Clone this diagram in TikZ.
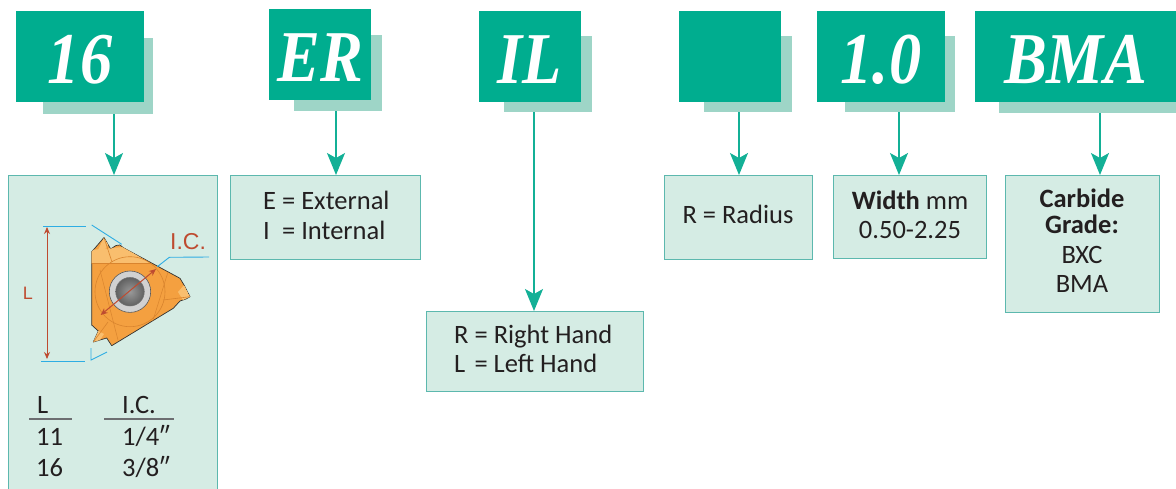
\documentclass[tikz,border=0pt]{standalone}
\usepackage{fontspec}
\setmainfont{Carlito}
\newfontfamily\hdfont[FakeStretch=0.88]{Liberation Serif}
\newfontfamily\arialfont{Liberation Sans}
\usetikzlibrary{arrows.meta}
\definecolor{tealA}{HTML}{00AD8F}
\definecolor{tealShadow}{HTML}{9ED5C7}
\definecolor{boxFill}{HTML}{D5ECE4}
\definecolor{boxLine}{HTML}{5CB8AE}
\definecolor{arrTeal}{HTML}{13B096}
\definecolor{txtDark}{HTML}{231F20}
\definecolor{cyanLine}{HTML}{2EADE3}
\definecolor{redBrown}{HTML}{BE4B30}
\definecolor{insOrange}{HTML}{F4A040}
\definecolor{insLight}{HTML}{F9BE6E}
\definecolor{insDark}{HTML}{D9842E}
\definecolor{ruleGray}{HTML}{6D6E71}
\begin{document}
\begin{tikzpicture}[x=1pt,y=-1pt,
  hdr/.style={fill=tealA, inner sep=0pt, text=white,
    font=\hdfont\bfseries\itshape\fontsize{73}{73}\selectfont,
    text height=54pt, text depth=0pt, minimum height=91pt},
  shad/.style={fill=tealShadow},
  infobox/.style={fill=boxFill, draw=boxLine, line width=1.2pt, inner sep=0pt},
  txt/.style={text=txtDark, inner sep=0pt, font=\fontsize{26.5}{29.5}\selectfont},
  arr/.style={draw=arrTeal, line width=1.5pt, -{Stealth[length=22pt,width=18pt,inset=5pt]}},
  dimred/.style={draw=redBrown, line width=1pt, {Stealth[length=7pt,width=6pt]}-{Stealth[length=7pt,width=6pt]}},
  cyanl/.style={draw=cyanLine, line width=0.9pt},
  tabrule/.style={draw=ruleGray, line width=1.2pt}
]
\useasboundingbox (0,0) rectangle (1176,488);
\clip (0,0) rectangle (1176,488);

% shadows
\fill[shad] (43,38) rectangle (153,114);
\fill[shad] (294,35) rectangle (382,111);
\fill[shad] (504,36) rectangle (592,112);
\fill[shad] (704,36) rectangle (792,112);
\fill[shad] (845,36) rectangle (955,112);
\fill[shad] (999,36) rectangle (1176,113);

% header boxes
\node[hdr, minimum width=128pt] (h1) at (80,56.5) {16};
\node[hdr, minimum width=102pt] (h2) at (320,54.5) {ER};
\node[hdr, minimum width=102pt] (h3) at (530,56.5) {IL};
\node[hdr, minimum width=102pt] (h4) at (730,56.5) {};
\node[hdr, minimum width=128pt] (h5) at (881,56.5) {1.0};
\node[hdr, minimum width=201pt] (h6) at (1075.5,56.5) {BMA};

% lower boxes
\node[infobox, minimum width=209pt, minimum height=325pt, anchor=north west] (b1) at (8,175) {};
\node[infobox, minimum width=190pt, minimum height=84pt, anchor=north west] (b2) at (230,175) {};
\node[infobox, minimum width=217pt, minimum height=80pt, anchor=north west] (b3) at (426,311) {};
\node[infobox, minimum width=148pt, minimum height=84pt, anchor=north west] (b4) at (664,175) {};
\node[infobox, minimum width=153pt, minimum height=83pt, anchor=north west] (b5) at (833,175) {};
\node[infobox, minimum width=154pt, minimum height=137pt, anchor=north west] (b6) at (1005,175) {};

% arrows
\coordinate (a1) at (114,114);
\coordinate (a2) at (336,111);
\coordinate (a3) at (534,112);
\coordinate (a4) at (739,112);
\coordinate (a5) at (899,112);
\coordinate (a6) at (1100,113);
\draw[arr] (a1) -- (a1 |- b1.north);
\draw[arr] (a2) -- (a2 |- b2.north);
\draw[arr] (a3) -- (a3 |- b3.north);
\draw[arr] (a4) -- (a4 |- b4.north);
\draw[arr] (a5) -- (a5 |- b5.north);
\draw[arr] (a6) -- (a6 |- b6.north);

% box texts
\node[txt, anchor=base west] (t2a) at (263,209) {E = External};
\node[txt, anchor=base west] (t2b) at (263,239) {\rlap{I}\phantom{E} = Internal};
\node[txt, anchor=base west] (t3a) at (454,343) {R = Right Hand};
\node[txt, anchor=base west] (t3b) at (454,372) {\rlap{L}\phantom{R} = Left Hand};
\node[txt, anchor=base] (t4a) at (738,223) {R = Radius};
\node[txt, anchor=base] (t5a) at (910,209) {\textbf{Width} mm};
\node[txt, anchor=base] (t5b) at (910,238) {0.50-2.25};
\node[txt, anchor=base] (t6a) at (1082,207) {\textbf{Carbide}};
\node[txt, anchor=base] (t6b) at (1082,233) {\textbf{Grade:}};
\node[txt, anchor=base] (t6c) at (1082,263) {BXC};
\node[txt, anchor=base] (t6d) at (1082,292) {BMA};

% table in first box
\node[txt, anchor=base west] (tl) at (37,413) {L};
\node[txt, anchor=base west] (tic) at (122,413) {I.C.};
\draw[tabrule] (29,419) -- (72,419);
\draw[tabrule] (104,419) -- (174,419);
\node[txt, anchor=base west] (r1a) at (36,445) {11};
\node[txt, anchor=base west] (r1b) at (122,445) {1/4″};
\node[txt, anchor=base west] (r2a) at (36,476) {16};
\node[txt, anchor=base west] (r2b) at (122,476) {3/8″};

% insert drawing
\path[fill=insOrange, draw=black!80, line width=0.7pt, line join=round]
  (91.7,251.7) -- (95,248) -- (104,237.5) -- (108.3,245) -- (110.7,249) -- (116,245.5)
  -- (120,245) -- (123.3,247.7) -- (180,278.3) -- (184,285) -- (190,296.7) -- (186,299)
  -- (180,301) -- (173.3,308.3) -- (111.7,345.7) -- (106.7,338) -- (100,340) -- (93.3,342)
  -- (98.3,331) -- (91.7,325) -- cycle;
\begin{scope}
  \clip (91.7,251.7) -- (95,248) -- (104,237.5) -- (108.3,245) -- (110.7,249) -- (116,245.5)
  -- (120,245) -- (123.3,247.7) -- (180,278.3) -- (184,285) -- (190,296.7) -- (186,299)
  -- (180,301) -- (173.3,308.3) -- (111.7,345.7) -- (106.7,338) -- (100,340) -- (93.3,342)
  -- (98.3,331) -- (91.7,325) -- cycle;
  \fill[insLight] (91,250) -- (123,247) -- (150,263) -- (91,263) -- cycle;
  \fill[insLight] (104,237.5) -- (108.3,245) -- (103,252) -- (98,250) -- cycle;
  \fill[insLight] (190,296.7) -- (183,300) -- (178,292) -- (184,285) -- cycle;
  \fill[insLight] (93.3,342) -- (98.3,331) -- (104,334) -- (100,340) -- cycle;
  \draw[insDark, line width=0.6pt] (91,263) -- (150,263);
  \draw[insDark, line width=0.6pt] (130,291.7) circle (35);
  \draw[insDark, line width=0.6pt] (104,237.5) -- (112,262);
  \draw[insDark, line width=0.6pt] (190,296.7) -- (163,300);
  \draw[insDark, line width=0.6pt] (93.3,342) -- (108,322);
  \draw[insDark, line width=0.5pt] (100,270) -- (118,340);
  \draw[insDark, line width=0.5pt] (168,272) -- (150,330);
\end{scope}
\path[fill=black!18, draw=black!65, line width=0.6pt] (130,291.7) circle (20.7);
\shade[inner color=black!40, outer color=black!62] (130,291.7) circle (14.3);
\draw[black!55, line width=0.5pt] (130,291.7) circle (14.3);

% dimension lines
\draw[cyanl] (43,226) -- (86,226);
\draw[cyanl] (91.7,225) -- (121.7,244.3);
\draw[cyanl] (41,361) -- (85,361);
\draw[cyanl] (91,348) -- (91,360) -- (107,352);
\draw[cyanl] (157.3,266.7) -- (169.3,257.3) -- (209,257);
\coordinate (lt) at (47,227);
\coordinate (lb) at (47,359);
\draw[dimred] (lt) -- (lb);
\coordinate (ica) at (100.7,315);
\coordinate (icb) at (156,269);
\draw[dimred] (ica) -- (icb);
\node[text=redBrown, inner sep=0pt, font=\arialfont\fontsize{18}{18}\selectfont] (lab) at (28,293) {L};
\node[text=redBrown, inner sep=0pt, font=\arialfont\fontsize{23}{23}\selectfont] (labic) at (188,241.5) {I.C.};
\end{tikzpicture}
\end{document}
